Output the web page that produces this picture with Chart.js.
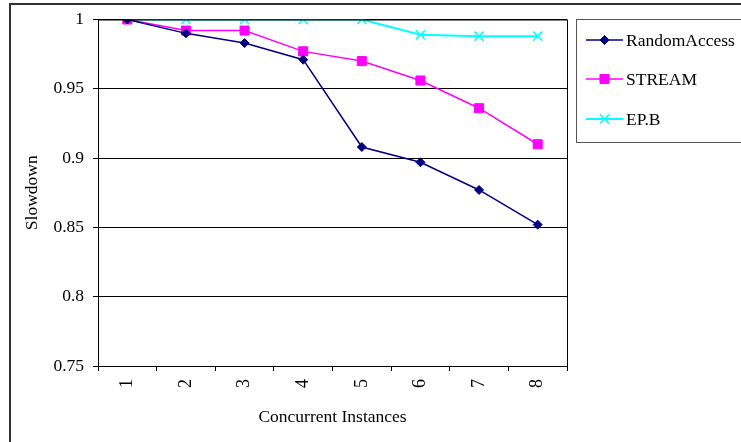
<!DOCTYPE html>
<html>
<head>
<meta charset="utf-8">
<script src="https://cdn.jsdelivr.net/npm/chart.js@4.4.0/dist/chart.umd.min.js"></script>
<style>
  html, body { margin: 0; padding: 0; background: #fff; }
  #wrap { width: 741px; height: 442px; }
</style>
</head>
<body>
<div id="wrap"><canvas id="slowChart" width="741" height="442"></canvas></div>
<script>
// concurrent instances on the x axis
const instances = ['1', '2', '3', '4', '5', '6', '7', '8'];
// slowdown values
const randomAccess = [1, 0.990, 0.983, 0.971, 0.908, 0.897, 0.877, 0.852];
const stream = [1, 0.992, 0.992, 0.977, 0.970, 0.956, 0.936, 0.910];
const epB = [1, 1, 1, 1, 1, 0.989, 0.988, 0.988];
const yTicks = [0.75, 0.8, 0.85, 0.9, 0.95, 1];

const serif = "'Liberation Serif', 'Times New Roman', serif";

// outer frame, plot box and the boxed legend on the right
const framePlugin = {
    id: 'frame',
    beforeDraw(chart) {
        const ctx = chart.ctx;
        ctx.save();
        ctx.fillStyle = '#fff';
        ctx.fillRect(0, 0, chart.width, chart.height);
        ctx.restore();
    },
    afterDraw(chart) {
        const ctx = chart.ctx;
        const a = chart.chartArea;
        ctx.save();
        // outer border
        ctx.strokeStyle = '#333';
        ctx.lineWidth = 2;
        ctx.beginPath();
        ctx.moveTo(10, 460);
        ctx.lineTo(10, 4);
        ctx.lineTo(760, 4);
        ctx.stroke();
        // plot box
        ctx.strokeStyle = '#000';
        ctx.lineWidth = 1;
        ctx.strokeRect(a.left + 0.5, a.top + 0.5, a.right - a.left, a.bottom - a.top);
        // legend box
        ctx.strokeStyle = '#555';
        ctx.strokeRect(576.5, 19.5, 200, 123);
        const rows = [40, 79, 119];
        ctx.font = '17.5px ' + serif;
        ctx.textBaseline = 'middle';
        chart.data.datasets.forEach((ds, i) => {
            const y = rows[i];
            ctx.strokeStyle = ds.borderColor;
            ctx.lineWidth = ds.borderWidth;
            ctx.beginPath();
            ctx.moveTo(586, y);
            ctx.lineTo(623, y);
            ctx.stroke();
            ctx.fillStyle = ds.pointBackgroundColor;
            ctx.strokeStyle = ds.pointBorderColor;
            ctx.lineWidth = ds.pointBorderWidth;
            Chart.helpers.drawPoint(ctx, { pointStyle: ds.pointStyle, radius: ds.pointRadius, rotation: 0, borderWidth: ds.pointBorderWidth }, 604.5, y);
            ctx.fillStyle = '#000';
            ctx.fillText(ds.label, 626, y + 1);
        });
        ctx.restore();
    }
};

new Chart(document.getElementById('slowChart'), {
    type: 'line',
    data: {
        labels: instances,
        datasets: [
            {
                label: 'RandomAccess',
                data: randomAccess,
                borderColor: '#000080',
                borderWidth: 1.5,
                pointStyle: 'rectRot',
                pointRadius: 4.5,
                pointBackgroundColor: '#000080',
                pointBorderColor: '#000080',
                pointBorderWidth: 1
            },
            {
                label: 'STREAM',
                data: stream,
                borderColor: '#ff00ff',
                borderWidth: 1.5,
                pointStyle: 'rect',
                pointRadius: 6.4,
                pointBackgroundColor: '#ff00ff',
                pointBorderColor: '#ff00ff',
                pointBorderWidth: 1
            },
            {
                label: 'EP.B',
                data: epB,
                borderColor: '#00ffff',
                borderWidth: 2,
                pointStyle: 'crossRot',
                pointRadius: 6.4,
                pointBackgroundColor: '#00ffff',
                pointBorderColor: '#00ffff',
                pointBorderWidth: 1.5
            }
        ]
    },
    options: {
        responsive: false,
        animation: false,
        layout: { padding: { left: 10, top: 19, right: 174, bottom: 0 } },
        plugins: {
            legend: { display: false },
            tooltip: { enabled: false }
        },
        elements: { line: { tension: 0 } },
        scales: {
            x: {
                offset: true,
                grid: { offset: true, drawOnChartArea: false, color: '#000', tickLength: 5, tickColor: '#000' },
                border: { color: '#000', width: 1 },
                ticks: {
                    font: { family: serif, size: 18 },
                    color: '#000',
                    maxRotation: 90,
                    minRotation: 90,
                    padding: 8
                },
                title: {
                    display: true,
                    text: 'Concurrent Instances',
                    font: { family: serif, size: 17.5 },
                    color: '#000',
                    padding: { top: 0, bottom: 14 }
                },
                afterFit(scale) { scale.height = 76; }
            },
            y: {
                min: 0.75,
                max: 1,
                afterBuildTicks(scale) { scale.ticks = yTicks.map(v => ({ value: v })); },
                grid: { color: '#000', tickLength: 5, tickColor: '#000' },
                border: { color: '#000', width: 1 },
                ticks: {
                    font: { family: serif, size: 17.5 },
                    color: '#000',
                    padding: 9,
                    callback: v => String(+v.toFixed(2))
                },
                title: {
                    display: true,
                    text: 'Slowdown',
                    font: { family: serif, size: 17.5 },
                    color: '#000',
                    padding: { top: 12, bottom: 0 }
                },
                afterFit(scale) { scale.width = 88; }
            }
        }
    },
    plugins: [framePlugin]
});
</script>
</body>
</html>
